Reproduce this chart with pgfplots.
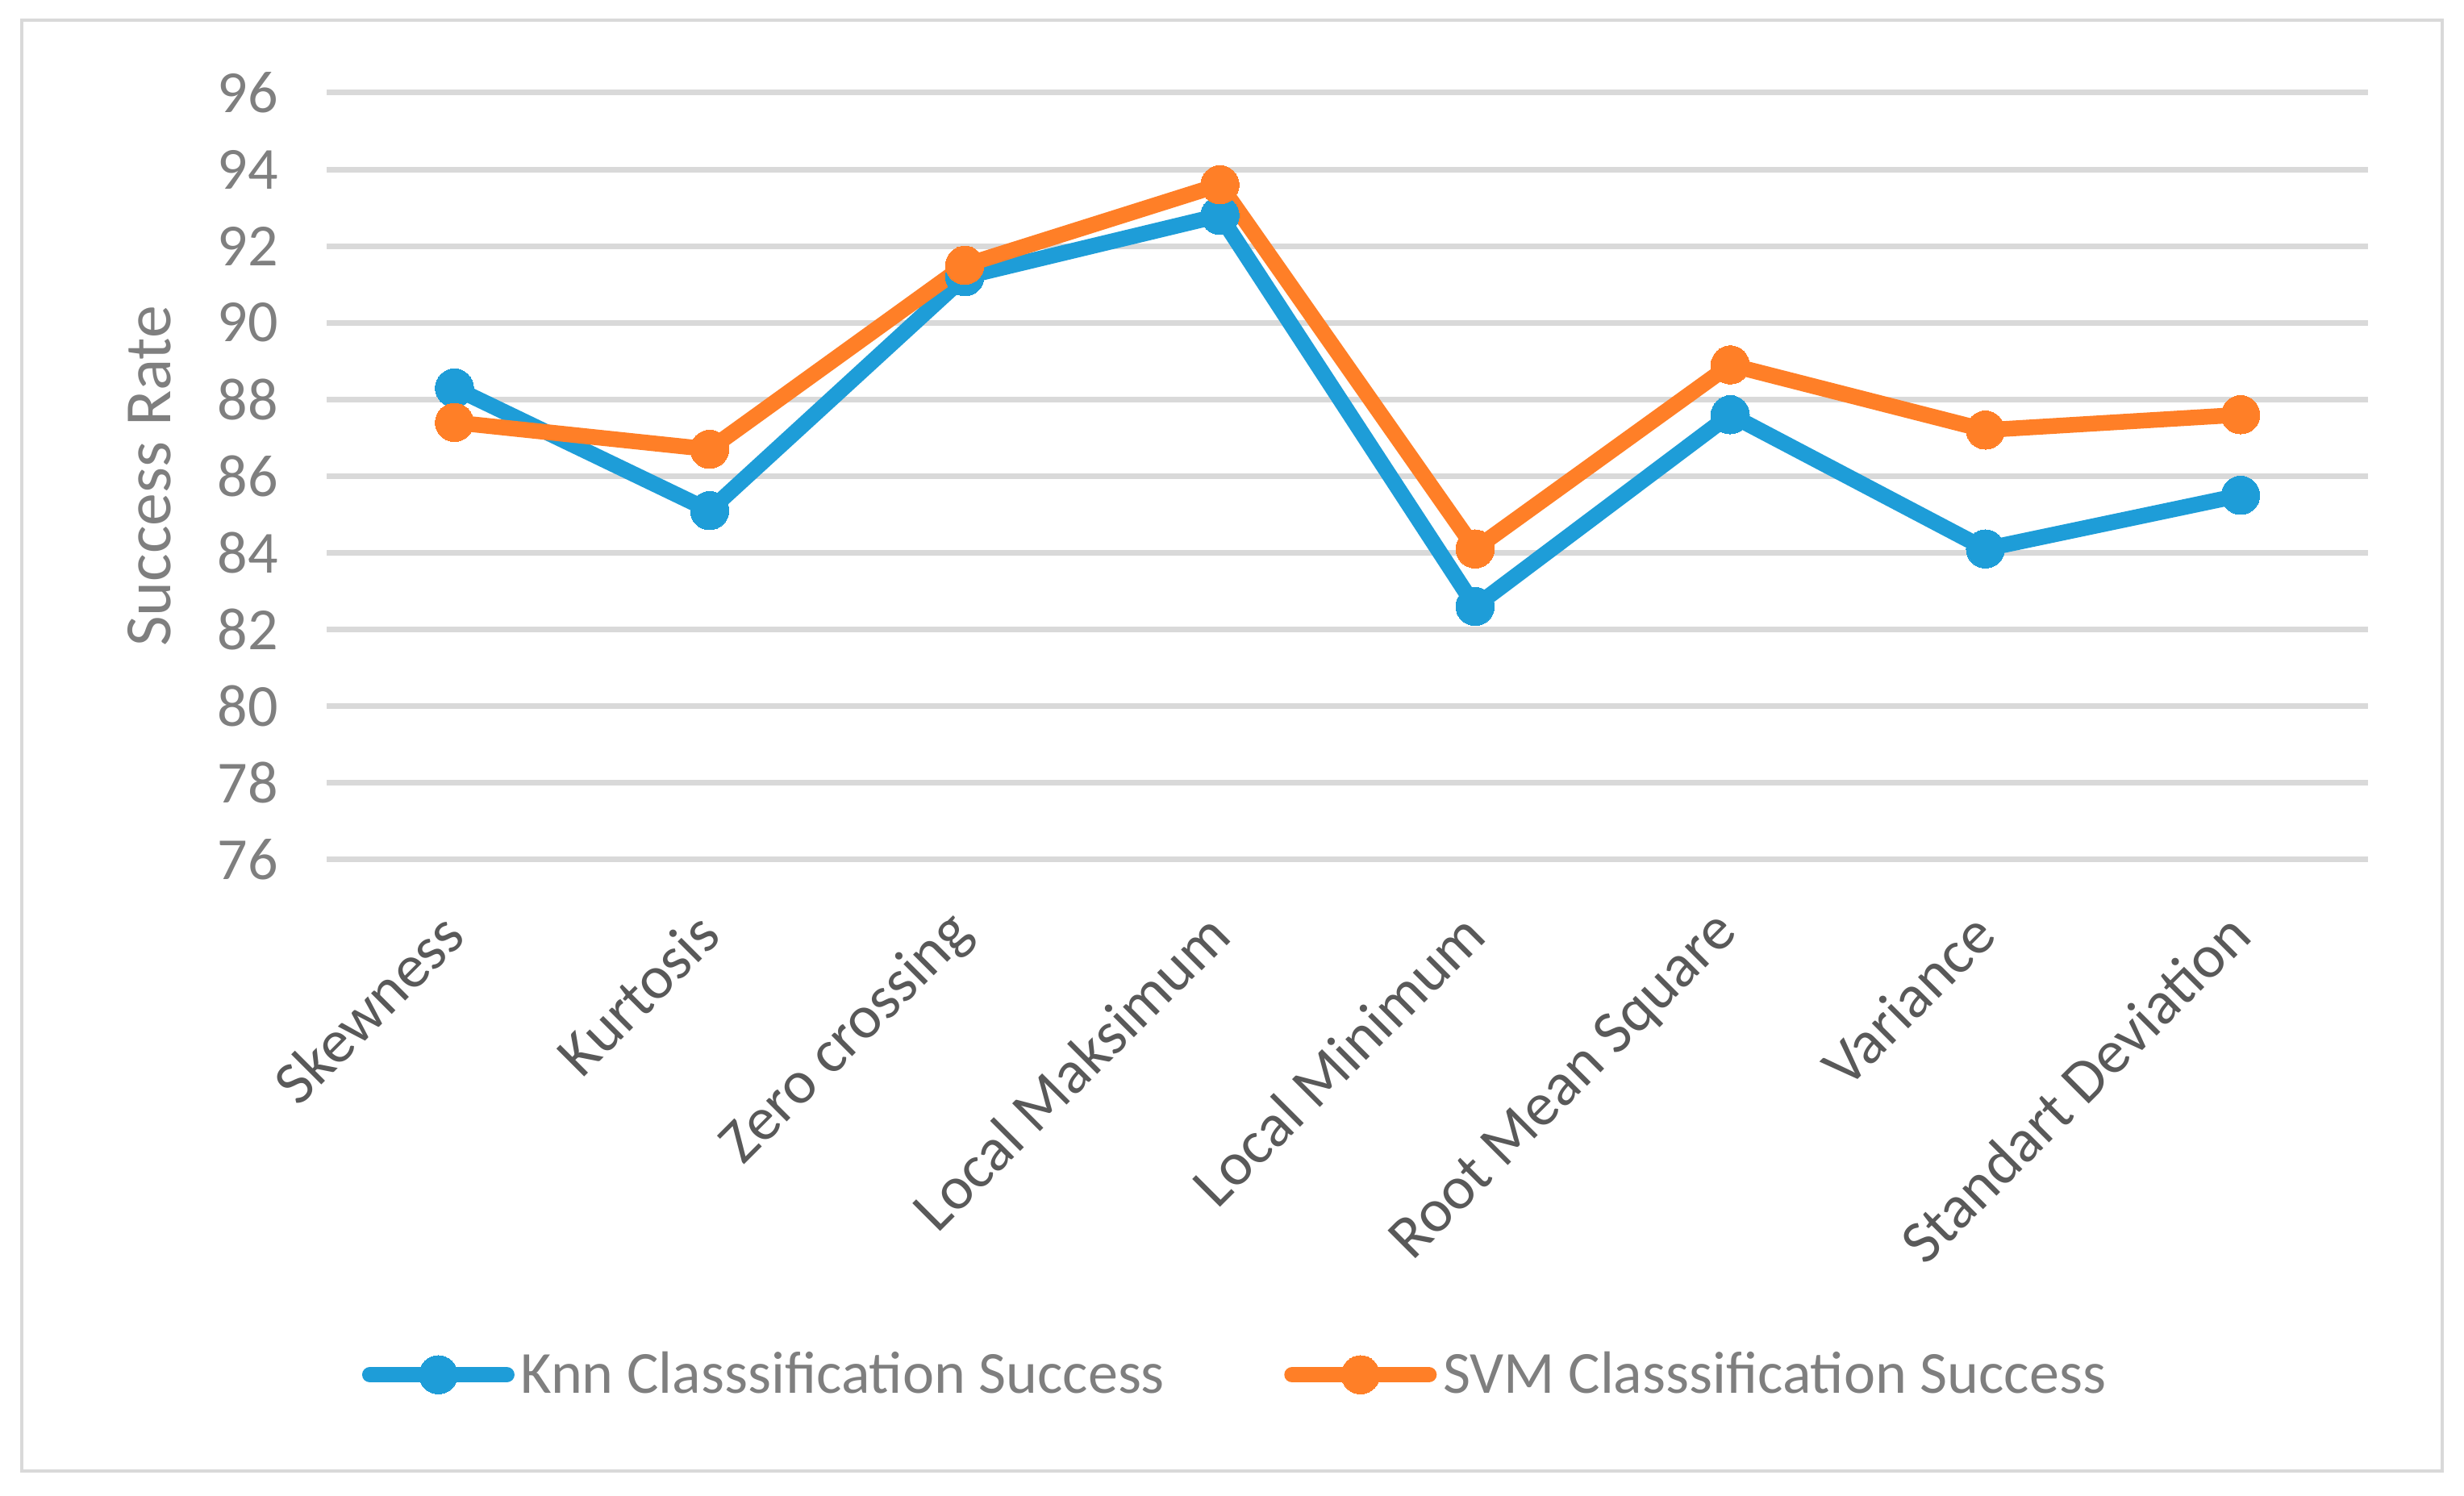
\documentclass[border=0pt]{standalone}
\usepackage{fontspec}
\setmainfont{Carlito}
\usepackage{pgfplots}
\pgfplotsset{compat=1.18}
\definecolor{knn}{HTML}{1E9DD8}
\definecolor{svm}{HTML}{FF7F27}
\definecolor{gridc}{HTML}{D9D9D9}
\definecolor{tickc}{HTML}{7F7F7F}
\definecolor{catc}{HTML}{595959}
\begin{document}
\begin{tikzpicture}
\useasboundingbox (0,0) rectangle (784pt,476pt);
\draw[gridc, line width=1pt] (7pt,8pt) rectangle (777pt,469.5pt);
\begin{axis}[
  at={(104pt,202.5pt)}, anchor=south west,
  scale only axis, width=649.5pt, height=244pt,
  xmin=-0.5, xmax=7.5, ymin=76, ymax=96,
  ytick={76,78,...,96},
  xtick={0,...,7},
  xticklabels={Skewness,Kurtosis,Zero crossing,Local Maksimum,Local Minimum,Root Mean Square,Variance,Standart Deviation},
  axis line style={draw=none},
  major tick length=0pt,
  ymajorgrids, grid style={gridc, line width=1.8pt},
  /pgf/number format/assume math mode=true,
  yticklabel style={font=\fontsize{19}{22}\selectfont, text=tickc, xshift=-12pt},
  xticklabel style={font=\fontsize{19.5}{22}\selectfont, text=catc, yshift=-18pt, xshift=2pt, rotate=45, anchor=east},
  ylabel={Success Rate},
  ylabel style={font=\fontsize{21}{24}\selectfont, text=tickc, at={(axis description cs:-0.087,0.5)}, anchor=center},
  legend columns=2,
  legend style={at={(0.446,-0.672)}, anchor=center, draw=none, fill=none,
    font=\fontsize{19}{22}\selectfont, text=tickc,
    /tikz/every even column/.append style={column sep=36pt}},
  legend image code/.code={%
    \draw[#1, mark repeat=2, mark phase=2] plot coordinates {(0pt,0pt) (21.75pt,0pt) (43.5pt,0pt)};},
  clip=false,
]
\addplot[knn, line width=5pt, line join=round, line cap=round, mark=*, mark size=6.1pt, mark options={line width=0pt}]
  coordinates {(0,88.3) (1,85.1) (2,91.2) (3,92.8) (4,82.6) (5,87.6) (6,84.1) (7,85.5)};
\addlegendentry{Knn Classsification Success}
\addplot[svm, line width=5pt, line join=round, line cap=round, mark=*, mark size=6.1pt, mark options={line width=0pt}]
  coordinates {(0,87.4) (1,86.7) (2,91.5) (3,93.6) (4,84.1) (5,88.9) (6,87.2) (7,87.6)};
\addlegendentry{SVM Classsification Success}
\end{axis}
\end{tikzpicture}
\end{document}
